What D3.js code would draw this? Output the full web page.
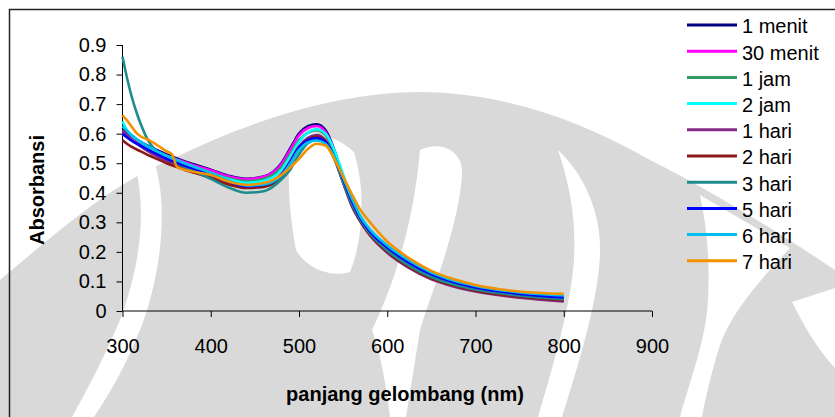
<!DOCTYPE html>
<html>
<head>
<meta charset="utf-8">
<script src="https://cdn.jsdelivr.net/npm/d3@7"></script>
<style>
  body { margin: 0; background: #fff; }
  svg { display: block; font-family: "Liberation Sans", Arial, sans-serif; }
</style>
</head>
<body>
<svg id="chart" width="835" height="417"></svg>
<script>
// wavelength grid (nm) shared by all spectra
const wavelengths = [300, 305, 310, 315, 320, 330, 340, 350, 356, 362, 370, 380, 400, 420, 440, 460, 480, 490,
  500, 510, 520, 530, 540, 550, 560, 570, 580, 600, 625, 650, 675, 700, 750, 800];

const menit1  = [.620, .605, .592, .582, .573, .557, .543, .530, .523, .516, .507, .497, .478, .458, .447, .455, .500, .550,
  .600, .625, .632, .612, .545, .448, .365, .305, .262, .203, .150, .112, .087, .069, .048, .035];
const menit30 = [.605, .592, .582, .574, .566, .551, .538, .526, .519, .513, .504, .494, .476, .456, .446, .454, .496, .545,
  .594, .619, .626, .606, .542, .447, .365, .305, .262, .203, .150, .112, .087, .070, .049, .036];
const jam1    = [.600, .588, .578, .569, .561, .545, .531, .519, .512, .506, .497, .487, .468, .449, .439, .447, .485, .530,
  .578, .603, .612, .595, .536, .450, .370, .310, .267, .208, .155, .117, .091, .074, .053, .040];
const jam2    = [.642, .612, .594, .583, .573, .553, .537, .524, .517, .510, .500, .489, .467, .446, .434, .441, .477, .522,
  .572, .603, .615, .600, .545, .462, .380, .318, .274, .217, .164, .126, .100, .082, .061, .050];
const hari1   = [.612, .596, .582, .570, .558, .538, .522, .508, .500, .493, .484, .474, .455, .434, .423, .429, .463, .507,
  .557, .586, .595, .578, .518, .434, .354, .300, .257, .197, .145, .107, .083, .066, .045, .032];
const hari2   = [.578, .566, .556, .548, .541, .526, .513, .500, .493, .487, .478, .469, .450, .428, .416, .420, .452, .497,
  .550, .580, .590, .575, .518, .436, .358, .302, .260, .200, .148, .110, .086, .069, .048, .036];
const hari3   = [.860, .790, .730, .680, .638, .572, .538, .517, .508, .499, .488, .475, .447, .418, .400, .405, .445, .478,
  .530, .568, .580, .568, .515, .437, .362, .306, .264, .205, .153, .115, .090, .073, .052, .040];
const hari5   = [.600, .588, .577, .568, .560, .544, .529, .515, .508, .501, .492, .482, .461, .438, .422, .427, .460, .502,
  .552, .578, .585, .572, .522, .447, .372, .312, .270, .215, .163, .124, .098, .080, .058, .046];
const hari6   = [.625, .610, .596, .584, .573, .555, .539, .525, .517, .510, .500, .489, .467, .442, .425, .428, .458, .498,
  .545, .570, .577, .566, .522, .452, .380, .318, .277, .222, .170, .130, .103, .085, .063, .053];
const hari7   = [.662, .645, .625, .605, .592, .578, .560, .540, .530, .487, .478, .471, .460, .438, .427, .433, .460, .485,
  .515, .548, .566, .560, .515, .455, .395, .340, .302, .235, .178, .136, .108, .088, .066, .058];

const seriesNames  = ["1 menit", "30 menit", "1 jam", "2 jam", "1 hari", "2 hari", "3 hari", "5 hari", "6 hari", "7 hari"];
const seriesValues = [menit1, menit30, jam1, jam2, hari1, hari2, hari3, hari5, hari6, hari7];
const seriesColors = ["#000080", "#ff00ff", "#339966", "#00ffff", "#862a86", "#8b1a1a", "#1e8c8c", "#0000ff", "#00bfef", "#f39200"];

const xTicks = [300, 400, 500, 600, 700, 800, 900];
const yTicks = [0, 0.1, 0.2, 0.3, 0.4, 0.5, 0.6, 0.7, 0.8, 0.9];

const svg = d3.select("#chart");

// faint page watermark behind the chart (rough outline of the emblem)
const watermarkGray = [
  "M0,280 C60,230 110,185 170,160 C250,120 340,92 420,92 C500,92 580,120 650,160 C720,195 790,240 835,270 L835,417 L0,417 Z"
];
const watermarkCuts = [
  "M150,150 C172,200 160,280 140,330 C122,375 102,405 94,417 L72,417 C86,392 104,358 120,320 C138,272 148,215 135,165 Z",
  "M558,150 C585,175 602,215 600,255 C598,300 580,360 562,417 L538,417 C555,360 572,300 574,258 C576,220 570,185 558,150 Z",
  "M700,195 L790,248 C765,275 732,310 720,345 C712,370 706,395 702,417 L680,417 C690,380 706,340 708,300 C710,260 707,228 700,195 Z",
  "M792,302 L835,288 L835,368 C818,350 804,326 792,302 Z",
  "M420,150 C440,140 464,150 462,175 C458,230 432,290 420,330 L406,417 L390,417 C386,380 378,345 372,330 C396,280 414,220 420,150 Z",
  "M292,140 C302,128 332,132 354,152 C366,190 363,240 350,272 C330,278 306,268 296,250 C289,212 286,172 292,140 Z"
];
const wm = svg.append("g");
wm.selectAll("path.g").data(watermarkGray).join("path").attr("class", "g").attr("d", d => d).attr("fill", "#d9d9d9");
wm.selectAll("path.c").data(watermarkCuts).join("path").attr("class", "c").attr("d", d => d).attr("fill", "#fff");

// outer chart border (right and bottom edges fall outside the picture)
svg.append("rect")
  .attr("x", 9.5).attr("y", 9.5)
  .attr("width", 900).attr("height", 500)
  .attr("fill", "none")
  .attr("stroke", "#222")
  .attr("stroke-width", 1.5);

const x = d3.scaleLinear().domain([300, 900]).range([122.5, 652]);
const y = d3.scaleLinear().domain([0, 0.9]).range([311, 45]);

const yAxis = svg.append("g")
  .attr("transform", `translate(${x(300)},0)`)
  .call(d3.axisLeft(y).tickValues(yTicks).tickSize(6).tickPadding(10)
    .tickFormat(d => d === 0 ? "0" : d.toFixed(1)));

const xAxis = svg.append("g")
  .attr("transform", `translate(0,${y(0)})`)
  .call(d3.axisBottom(x).tickValues(xTicks).tickSize(6).tickPadding(22));

[xAxis, yAxis].forEach(g => {
  g.selectAll("path, line").attr("stroke", "#000").attr("stroke-width", 1);
  g.selectAll("text").attr("font-size", 20).attr("fill", "#000")
    .attr("font-family", "'Liberation Sans', Arial, sans-serif");
});
// plain axis lines without end caps
yAxis.select(".domain").attr("d", `M0,${y(0)}V${y(0.9)}`);
xAxis.select(".domain").attr("d", `M${x(300)},0H${x(900)}`);

// spectra
const line = d3.line()
  .x((d, i) => x(wavelengths[i]))
  .y(d => y(d))
  .curve(d3.curveMonotoneX);

svg.append("g")
  .selectAll("path")
  .data(seriesValues)
  .join("path")
  .attr("d", line)
  .attr("fill", "none")
  .attr("stroke", (d, i) => seriesColors[i])
  .attr("stroke-width", 2.6)
  .attr("stroke-linejoin", "round");

// axis titles
svg.append("text")
  .attr("x", 405).attr("y", 401)
  .attr("text-anchor", "middle")
  .attr("font-size", 20).attr("font-weight", "bold")
  .text("panjang gelombang (nm)");

svg.append("text")
  .attr("transform", "translate(44,190) rotate(-90)")
  .attr("text-anchor", "middle")
  .attr("font-size", 20).attr("font-weight", "bold")
  .text("Absorbansi");

// legend
const legend = svg.append("g")
  .selectAll("g")
  .data(seriesNames)
  .join("g")
  .attr("transform", (d, i) => `translate(687,${25 + i * 26.2})`);

legend.append("line")
  .attr("x1", 0).attr("x2", 50)
  .attr("stroke", (d, i) => seriesColors[i])
  .attr("stroke-width", 3);

legend.append("text")
  .attr("x", 55).attr("dy", "0.42em")
  .attr("font-size", 20)
  .text(d => d);
</script>
</body>
</html>
